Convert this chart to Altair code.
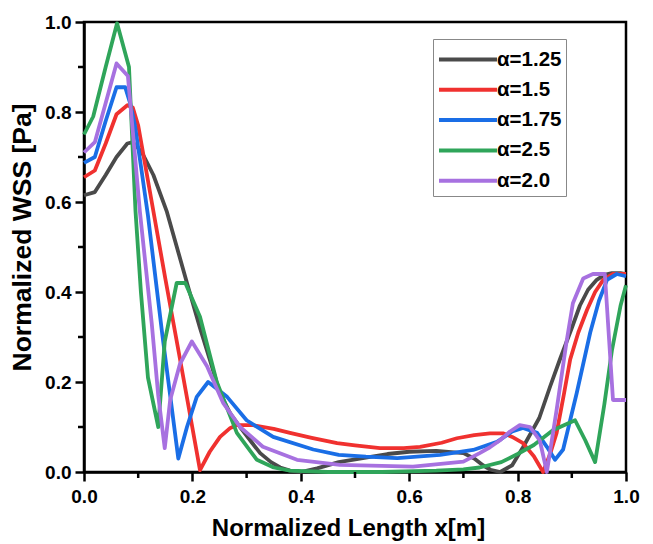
import altair as alt
import pandas as pd

# alpha = 1.25 (black)
x_a125 = [0.0, 0.02, 0.04, 0.06, 0.08, 0.09, 0.107, 0.128, 0.153, 0.19, 0.214, 0.232, 0.251, 0.27, 0.288,
          0.31, 0.325, 0.345, 0.362, 0.38, 0.40, 0.43, 0.47, 0.52, 0.56, 0.60, 0.65, 0.70, 0.72, 0.736,
          0.75, 0.768, 0.79, 0.81, 0.84, 0.86, 0.878, 0.90, 0.915, 0.93, 0.946, 0.96, 0.974, 0.99, 1.0]
y_a125 = [0.615, 0.622, 0.66, 0.70, 0.73, 0.733, 0.71, 0.66, 0.578, 0.42, 0.32, 0.25, 0.175, 0.13, 0.10,
          0.065, 0.042, 0.022, 0.01, 0.003, 0.0, 0.008, 0.022, 0.032, 0.04, 0.045, 0.047, 0.042, 0.03, 0.015,
          0.005, 0.0, 0.015, 0.055, 0.12, 0.19, 0.25, 0.32, 0.37, 0.405, 0.427, 0.438, 0.442, 0.442, 0.44]

# alpha = 1.5 (red)
x_a15 = [0.0, 0.02, 0.04, 0.06, 0.08, 0.09, 0.10, 0.125, 0.15, 0.175, 0.196, 0.214, 0.232, 0.251, 0.27,
         0.282, 0.312, 0.35, 0.38, 0.42, 0.467, 0.50, 0.546, 0.59, 0.62, 0.66, 0.688, 0.72, 0.749, 0.773,
         0.79, 0.81, 0.83, 0.847, 0.86, 0.872, 0.885, 0.897, 0.912, 0.928, 0.943, 0.958, 0.976, 1.0]
y_a15 = [0.655, 0.67, 0.73, 0.795, 0.815, 0.81, 0.77, 0.60, 0.43, 0.265, 0.125, 0.004, 0.045, 0.078, 0.098,
         0.104, 0.104, 0.096, 0.087, 0.076, 0.064, 0.059, 0.053, 0.053, 0.056, 0.065, 0.075, 0.082, 0.086, 0.086,
         0.078, 0.064, 0.035, 0.0, 0.04, 0.087, 0.17, 0.25, 0.31, 0.36, 0.40, 0.427, 0.44, 0.44]

# alpha = 1.75 (blue)
x_a175 = [0.0, 0.02, 0.04, 0.06, 0.076, 0.085, 0.094, 0.105, 0.118, 0.144, 0.174, 0.19, 0.208, 0.229, 0.264,
          0.30, 0.349, 0.423, 0.47, 0.52, 0.578, 0.657, 0.718, 0.762, 0.79, 0.81, 0.836, 0.854, 0.869, 0.884,
          0.909, 0.934, 0.95, 0.965, 0.983, 1.0]
y_a175 = [0.687, 0.70, 0.78, 0.855, 0.855, 0.82, 0.77, 0.68, 0.57, 0.31, 0.03, 0.10, 0.167, 0.20, 0.167,
          0.115, 0.078, 0.05, 0.038, 0.034, 0.031, 0.038, 0.049, 0.067, 0.09, 0.098, 0.087, 0.056, 0.027, 0.05,
          0.175, 0.31, 0.38, 0.427, 0.44, 0.435]

# alpha = 2.5 (green)
x_a25 = [0.0, 0.017, 0.04, 0.061, 0.083, 0.095, 0.105, 0.118, 0.137, 0.149, 0.171, 0.187, 0.214, 0.245, 0.282,
         0.319, 0.35, 0.38, 0.45, 0.55, 0.65, 0.70, 0.73, 0.77, 0.80, 0.83, 0.865, 0.906, 0.925, 0.943,
         0.96, 0.974, 0.99, 1.0]
y_a25 = [0.75, 0.79, 0.90, 0.997, 0.90, 0.58, 0.40, 0.21, 0.10, 0.29, 0.42, 0.42, 0.345, 0.20, 0.087,
         0.027, 0.01, 0.003, 0.0, 0.0, 0.003, 0.006, 0.01, 0.022, 0.04, 0.06, 0.093, 0.115, 0.07, 0.022,
         0.15, 0.27, 0.37, 0.415]

# alpha = 2.0 (purple)
x_a20 = [0.0, 0.02, 0.04, 0.06, 0.081, 0.103, 0.125, 0.137, 0.149, 0.159, 0.177, 0.199, 0.227, 0.257, 0.288,
         0.33, 0.393, 0.472, 0.607, 0.70, 0.73, 0.749, 0.767, 0.786, 0.804, 0.823, 0.841, 0.854, 0.872, 0.89,
         0.902, 0.921, 0.939, 0.961, 0.976, 1.0]
y_a20 = [0.71, 0.733, 0.82, 0.908, 0.88, 0.58, 0.33, 0.17, 0.053, 0.16, 0.24, 0.29, 0.235, 0.153, 0.10,
         0.056, 0.027, 0.016, 0.012, 0.023, 0.042, 0.055, 0.07, 0.09, 0.104, 0.10, 0.07, 0.0, 0.138, 0.287,
         0.375, 0.43, 0.44, 0.44, 0.16, 0.16]

labels = ["α=1.25", "α=1.5", "α=1.75", "α=2.5", "α=2.0"]
colors = ["#4a4a4a", "#f0312f", "#1a6ee6", "#2fa55a", "#a771e0"]
series = [(x_a125, y_a125), (x_a15, y_a15), (x_a175, y_a175), (x_a25, y_a25), (x_a20, y_a20)]

major_ticks = [0.0, 0.2, 0.4, 0.6, 0.8, 1.0]
minor_ticks = [0.1, 0.3, 0.5, 0.7, 0.9]

rows = []
for i, (lab, (xs, ys)) in enumerate(zip(labels, series)):
    for j, (xv, yv) in enumerate(zip(xs, ys)):
        rows.append({"x": xv, "y": yv, "series": lab, "order": i, "idx": j})
df = pd.DataFrame(rows)
minor_df = pd.DataFrame({"v": minor_ticks})

FONT = "Liberation Sans"
xscale = alt.Scale(domain=[0, 1], nice=False, zero=False)
yscale = alt.Scale(domain=[0, 1], nice=False, zero=False)

lines = alt.Chart(df).mark_line(strokeWidth=3.8, strokeJoin="round").encode(
    x=alt.X("x:Q", scale=xscale,
            axis=alt.Axis(title="Normalized Length x[m]", values=major_ticks, format=".1f",
                          ticks=True, tickSize=9, tickWidth=2.5, tickColor="black",
                          domainColor="black", domainWidth=2.5, grid=False,
                          labelFont=FONT, labelFontSize=19, labelFontWeight="bold", labelColor="black",
                          labelPadding=6, labelFlush=False,
                          titleFont=FONT, titleFontSize=24, titleFontWeight="bold", titleColor="black",
                          titlePadding=10, titleX=264)),
    y=alt.Y("y:Q", scale=yscale,
            axis=alt.Axis(title="Normalized WSS [Pa]", values=major_ticks, format=".1f",
                          ticks=True, tickSize=9, tickWidth=2.5, tickColor="black",
                          domainColor="black", domainWidth=2.5, grid=False,
                          labelFont=FONT, labelFontSize=19, labelFontWeight="bold", labelColor="black",
                          labelPadding=4, labelFlush=False,
                          titleFont=FONT, titleFontSize=26.5, titleFontWeight="bold", titleColor="black",
                          titlePadding=8, titleY=215)),
    color=alt.Color("series:N", scale=alt.Scale(domain=labels, range=colors),
                    legend=alt.Legend(orient="none", legendX=349, legendY=17, title=None,
                                      symbolType="M-1,0H3", symbolStrokeWidth=4, symbolSize=841,
                                      symbolFillColor="transparent",
                                      labelFont=FONT, labelFontSize=20.5, labelFontWeight="bold",
                                      labelColor="black", strokeColor="#888888", fillColor="white",
                                      padding=4, rowPadding=3.3, labelOffset=27)),
    order=alt.Order("idx:Q"),
    detail="order:N",
)

minor_x = alt.Chart(minor_df).mark_tick(orient="vertical", size=6, thickness=2.5, color="black", opacity=1,
                                        yOffset=3).encode(
    x=alt.X("v:Q", scale=xscale), y=alt.datum(0, scale=yscale))
minor_y = alt.Chart(minor_df).mark_tick(orient="horizontal", size=6, thickness=2.5, color="black", opacity=1,
                                        xOffset=-3).encode(
    y=alt.Y("v:Q", scale=yscale), x=alt.datum(0, scale=xscale))

chart = alt.layer(lines, minor_x, minor_y).properties(
    width=542, height=450,
    background="white",
    autosize=alt.AutoSizeParams(type="none"),
    padding={"left": 84, "top": 22, "right": 27, "bottom": 72},
).configure_view(stroke="black", strokeWidth=2.5)

chart.save("out.html", embed_options={"renderer": "svg", "actions": False})
